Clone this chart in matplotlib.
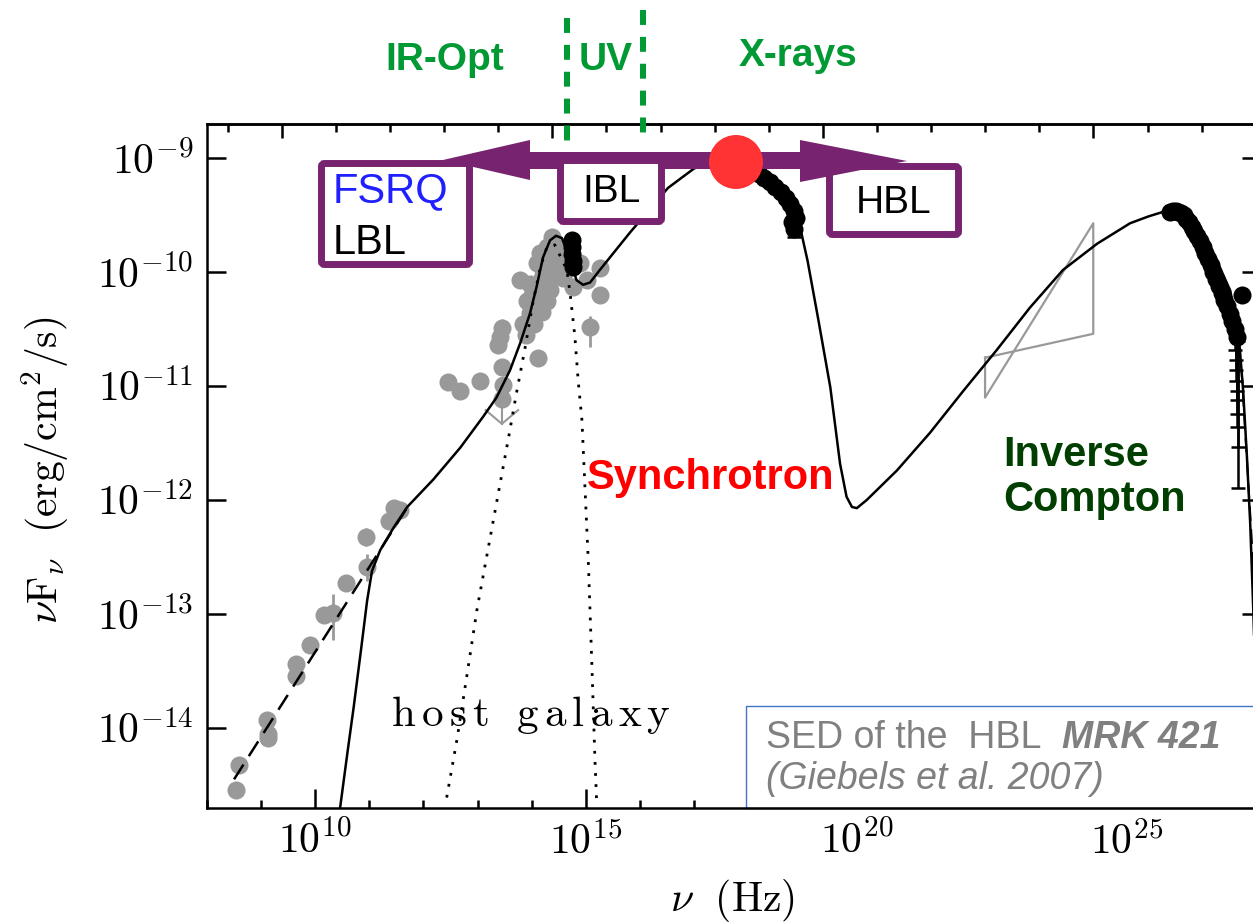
import numpy as np
import matplotlib
matplotlib.use('Agg')
import matplotlib.pyplot as plt
import matplotlib.transforms as mtransforms
from matplotlib.lines import Line2D
from matplotlib.patches import Rectangle, FancyBboxPatch, Polygon, Circle
from matplotlib.ticker import FixedLocator, NullLocator, NullFormatter, FuncFormatter

plt.rcParams['mathtext.fontset'] = 'cm'
plt.rcParams['font.family'] = ['Liberation Sans', 'DejaVu Sans']

# ---- data (log10 nu [Hz], log10 nuFnu [erg/cm2/s]) ----

# SSC model curve
model_lognu = [10.46, 10.60, 10.71, 10.85, 10.96, 11.05, 11.20, 11.45, 11.70, 12.18, 12.68,
               13.10, 13.35, 13.60, 13.79, 13.97, 14.09, 14.21, 14.34, 14.45, 14.56, 14.71,
               14.83, 14.95, 15.08, 15.26, 15.82, 16.52, 17.00, 17.50, 17.80, 18.10, 18.50,
               18.80, 18.95, 19.10, 19.30, 19.52, 19.70, 19.82, 19.92, 20.01, 20.19, 20.75,
               21.36, 21.98, 22.60, 23.21, 23.82, 24.45, 25.06, 25.40, 25.67, 25.86, 26.29, 26.60,
               26.91, 27.06, 27.10, 27.15, 27.22, 27.28, 27.34, 27.40]
model_logf = [-14.70, -14.20, -13.82, -13.30, -12.88, -12.62, -12.44, -12.24, -12.06, -11.82, -11.54,
              -11.27, -11.10, -10.86, -10.62, -10.36, -10.13, -9.87, -9.72, -9.68, -9.70, -9.89,
              -10.07, -10.11, -10.09, -9.98, -9.65, -9.26, -9.09, -9.00, -9.02, -9.10, -9.24,
              -9.42, -9.58, -9.90, -10.42, -11.01, -11.68, -11.97, -12.06, -12.07, -12.00, -11.74,
              -11.41, -11.04, -10.68, -10.31, -9.98, -9.75, -9.57, -9.51, -9.47, -9.46, -9.63, -9.83,
              -10.16, -10.51, -10.74, -11.04, -11.62, -12.20, -13.00, -14.00]

# radio power law (dashed)
radio_lognu = [8.50, 11.72]
radio_logf = [-14.45, -12.05]

# cutoff (dashed, right edge)
cut_lognu = [27.12, 27.34]
cut_logf = [-10.85, -12.60]

# host galaxy (dotted)
host_lognu = [12.43, 12.62, 12.80, 12.99, 13.14, 13.57, 13.72, 13.88, 14.03, 14.16, 14.28, 14.43,
              14.65, 14.71, 14.80, 14.86, 14.93, 15.05, 15.11, 15.17, 15.20]
host_logf = [-14.61, -14.10, -13.55, -12.96, -12.57, -11.46, -11.06, -10.66, -10.25, -9.96, -9.78, -9.76,
             -9.98, -10.18, -10.57, -10.95, -11.30, -12.57, -13.40, -14.28, -14.63]

# archival gray points
gray_lognu = [8.54, 8.59, 9.11, 9.12, 9.12, 9.65, 9.65, 9.91, 10.16, 11.36, 11.45,
              14.37, 14.28, 14.16, 14.09, 14.21, 13.79, 13.97, 14.16, 14.34, 14.40, 14.52,
              14.46, 14.65, 14.77, 14.89, 15.26, 15.26, 15.02, 13.91, 13.97, 13.84, 14.09,
              14.28, 13.42, 13.38, 13.45, 13.47, 13.45, 12.68, 14.12, 14.00, 14.20, 14.30,
              14.45, 14.58, 13.90, 14.05, 14.20]
gray_logf = [-14.54, -14.32, -13.93, -14.05, -14.09, -13.44, -13.54, -13.27, -13.01, -12.18, -12.07,
             -9.69, -9.78, -9.83, -9.92, -9.98, -10.07, -10.10, -10.13, -10.16, -10.04, -9.98,
             -9.89, -9.92, -10.13, -9.92, -9.96, -10.20, -10.07, -10.25, -10.36, -10.45, -10.31,
             -10.25, -10.57, -10.64, -10.83, -10.99, -11.11, -11.04, -10.75, -10.20, -10.05, -9.90,
             -9.78, -10.05, -10.55, -10.45, -10.35]

# gray points with error bars (lower / upper error in dex)
gerr_lognu = [10.33, 10.56, 10.94, 10.96, 11.57, 13.05, 12.45, 15.08, 13.45]
gerr_logf = [-12.99, -12.73, -12.32, -12.59, -12.09, -10.95, -10.96, -10.48, -10.49]
gerr_lo = [0.24, 0.05, 0.08, 0.12, 0.06, 0.06, 0.06, 0.18, 0.08]
gerr_hi = [0.17, 0.05, 0.08, 0.12, 0.06, 0.06, 0.06, 0.10, 0.08]

# gray upper limit
ul_lognu = [13.45, 13.45]
ul_logf = [-11.11, -11.33]
ulhead_lognu = [13.15, 13.45, 13.75]
ulhead_logf = [-11.21, -11.33, -11.21]

# Fermi bow-tie
bow_lognu = [22.38, 24.38, 24.38, 22.38, 22.38]
bow_logf = [-10.75, -10.54, -9.57, -11.10, -10.75]

# simultaneous black points (optical, X-ray, VHE)
black_lognu = [14.74, 14.75, 14.75, 14.76, 14.76,
               18.09, 18.20, 18.30, 18.40, 18.50, 18.60, 18.70, 18.78, 18.85, 18.88, 18.82, 18.84,
               25.80, 25.85, 25.90, 25.95, 26.00, 26.05, 26.10, 26.15, 26.20, 26.25, 26.30, 26.35,
               26.40, 26.45, 26.50, 26.55, 26.60, 26.65, 26.70, 26.75, 26.80, 26.85, 26.90, 26.95,
               27.00, 27.04, 27.13]
black_logf = [-9.72, -9.78, -9.84, -9.90, -9.95,
              -9.11, -9.14, -9.17, -9.21, -9.25, -9.30, -9.35, -9.40, -9.46, -9.52, -9.56, -9.62,
              -9.47, -9.46, -9.46, -9.47, -9.48, -9.50, -9.53, -9.56, -9.60, -9.64, -9.68, -9.73,
              -9.78, -9.83, -9.88, -9.94, -10.00, -10.06, -10.12, -10.18, -10.24, -10.30, -10.37, -10.43,
              -10.50, -10.57, -10.20]

# black error bars (VHE tail + X-ray)
berr_lognu = [18.84, 27.00, 27.01, 27.02, 27.02, 27.03, 27.03, 27.04, 27.04, 27.05, 27.05]
berr_logf = [-9.62, -10.50, -10.52, -10.54, -10.55, -10.56, -10.57, -10.58, -10.58, -10.59, -10.60]
berr_end = [-9.69, -10.68, -10.77, -10.86, -10.95, -11.04, -11.12, -11.24, -11.36, -11.53, -11.89]


def lin(a):
    return 10.0 ** np.asarray(a, dtype=float)


W, H = 1253, 923
fig = plt.figure(figsize=(W / 100, H / 100), dpi=100)
ax = fig.add_axes([207 / W, (H - 807.7) / H, (1261 - 207) / W, (807.7 - 124) / H])

# pixel transform (origin top-left) for the annotation layer
pix = mtransforms.Affine2D().scale(1.0 / W, -1.0 / H).translate(0, 1) + fig.transFigure

gray = '#999999'

# Model and data
ax.plot(lin(model_lognu), lin(model_logf), color='black', lw=1.8, zorder=2)
ax.plot(lin(radio_lognu), lin(radio_logf), color='black', lw=1.8, dashes=(7, 4), zorder=2)
ax.plot(lin(cut_lognu), lin(cut_logf), color='black', lw=1.5, dashes=(7, 4), zorder=2)
ax.plot(lin(host_lognu), lin(host_logf), color='black', lw=2.0, dashes=(1, 3), zorder=2)

ax.plot(lin(gray_lognu), lin(gray_logf), 'o', color=gray, ms=13, mew=0, zorder=1.5)
gy = lin(gerr_logf)
ax.errorbar(lin(gerr_lognu), gy,
            yerr=[gy - lin(np.array(gerr_logf) - np.array(gerr_lo)),
                  lin(np.array(gerr_logf) + np.array(gerr_hi)) - gy],
            fmt='o', color=gray, ms=13, mew=0, elinewidth=2, capsize=6, capthick=2, zorder=1.5)
ax.plot(lin(ul_lognu), lin(ul_logf), color=gray, lw=1.5, zorder=1.5)
ax.plot(lin(ulhead_lognu), lin(ulhead_logf), color=gray, lw=1.5, zorder=1.5)
ax.plot(lin(bow_lognu), lin(bow_logf), color=gray, lw=1.6, zorder=1.5)

ax.plot(lin(black_lognu), lin(black_logf), 'o', color='black', ms=13, mew=0, zorder=2.1)
by = lin(berr_logf)
ax.errorbar(lin(berr_lognu), by, yerr=[by - lin(berr_end), np.zeros(len(by))],
            fmt='none', ecolor='black', elinewidth=1.8, capsize=5, capthick=1.8, zorder=2.1)

# Axes
ax.set_xscale('log')
ax.set_yscale('log')
ax.set_xlim(1e8, 10 ** 27.48)
ax.set_ylim(2e-15, 2e-9)

ax.xaxis.set_major_locator(FixedLocator([1e10, 1e15, 1e20, 1e25]))
ax.xaxis.set_minor_locator(FixedLocator([10.0 ** k for k in range(8, 28)]))
ax.xaxis.set_minor_formatter(NullFormatter())
ax.yaxis.set_major_locator(FixedLocator([10.0 ** k for k in range(-14, -8)]))
ax.yaxis.set_minor_locator(NullLocator())
ax.xaxis.set_major_formatter(FuncFormatter(lambda v, p: r'$10^{%d}$' % round(np.log10(v))))
ax.yaxis.set_major_formatter(FuncFormatter(lambda v, p: r'$10^{%d}$' % round(np.log10(v))))

ax.tick_params(which='both', direction='in', top=False, right=True, width=1.8, labelsize=30)
ax.tick_params(which='major', length=14)
ax.tick_params(axis='x', which='minor', length=6)
ax.tick_params(axis='y', pad=10)
ax.tick_params(axis='x', pad=10)
for sp in ax.spines.values():
    sp.set_linewidth(1.8)

# top axis in eV
secax = ax.secondary_xaxis('top', functions=(lambda x: x / 2.418e14, lambda e: e * 2.418e14))
secax.xaxis.set_major_locator(FixedLocator([1e-5, 1.0, 1e5, 1e10]))
secax.xaxis.set_minor_locator(FixedLocator([10.0 ** k for k in range(-6, 14)]))
secax.xaxis.set_major_formatter(NullFormatter())
secax.xaxis.set_minor_formatter(NullFormatter())
secax.tick_params(which='both', direction='in', width=1.8)
secax.tick_params(which='major', length=10)
secax.tick_params(which='minor', length=6)
secax.spines['top'].set_linewidth(1.8)

fig.text(45, 470, r'$\nu\mathrm{F}_\nu\ \ \mathrm{(erg/cm^2/s)}$', transform=pix,
         rotation=90, ha='center', va='center', fontsize=30)
fig.text(733, 900, r'$\nu\ \ \mathrm{(Hz)}$', transform=pix,
         ha='center', va='center', fontsize=30)

# host galaxy label
ax.text(531, 715, r'$\mathrm{h\,o\,s\,t\;\;\,g\,a\,l\,a\,x\,y}$', transform=pix,
        ha='center', va='center', fontsize=31, clip_on=False, zorder=2.3)

# SED caption box (under ticks)
ax.add_patch(Rectangle((746, 706), 600, 102, transform=pix, facecolor='white',
                       edgecolor='#4472c4', lw=1.0, clip_on=False, zorder=2.2))
cap_gray = '#808080'
ax.text(766, 738, 'SED of the  HBL', transform=pix, color=cap_gray, fontsize=27,
        ha='left', va='center', clip_on=False, zorder=2.3)
ax.text(1062, 738, 'MRK 421', transform=pix, color=cap_gray, fontsize=27, fontweight='bold',
        style='italic', ha='left', va='center', clip_on=False, zorder=2.3)
ax.text(766, 779, '(Giebels et al. 2007)', transform=pix, color=cap_gray, fontsize=27,
        style='italic', ha='left', va='center', clip_on=False, zorder=2.3)

# Annotation layer
purple = '#77236f'
green = '#009933'

for xs, y0, y1 in [(567, 18, 150), (643, 10, 142)]:
    fig.add_artist(Line2D([xs, xs], [y0, y1], transform=pix, color=green, lw=4.3,
                          dashes=(2.5, 2), zorder=5))

fig.text(445, 60, 'IR-Opt', transform=pix, color=green, fontsize=28, fontweight='bold',
         ha='center', va='center')
fig.text(606, 60, 'UV', transform=pix, color=green, fontsize=28, fontweight='bold',
         ha='center', va='center')
fig.text(798, 56, 'X-rays', transform=pix, color=green, fontsize=28, fontweight='bold',
         ha='center', va='center')


def add_box(x0, y0, x1, y1, z):
    fig.add_artist(FancyBboxPatch((x0, y0), x1 - x0, y1 - y0, boxstyle='round,pad=0,rounding_size=3',
                                  transform=pix, facecolor='white', edgecolor=purple, lw=5, zorder=z))


add_box(321.5, 163.5, 469.5, 264.5, 3)
add_box(829.5, 166.5, 958.5, 234.5, 3)

arrow = Polygon([(443, 160), (530, 140), (530, 152), (800, 152), (800, 140), (907, 161),
                 (800, 182), (800, 169), (530, 169), (530, 180)],
                closed=True, transform=pix, facecolor=purple, edgecolor='none', zorder=4)
fig.add_artist(arrow)
add_box(560.5, 160.5, 661.5, 221.5, 5)
fig.add_artist(Circle((736, 162), 27, transform=pix, facecolor='#ff3333', edgecolor='none', zorder=6))

fig.text(333, 191, 'FSRQ', transform=pix, color='#1f1fff', fontsize=30, ha='left', va='center', zorder=7)
fig.text(333, 243, 'LBL', transform=pix, color='black', fontsize=30, ha='left', va='center', zorder=7)
fig.text(612, 192, 'IBL', transform=pix, color='black', fontsize=28, ha='center', va='center', zorder=7)
fig.text(894, 203, 'HBL', transform=pix, color='black', fontsize=28, ha='center', va='center', zorder=7)

fig.text(587, 478, 'Synchrotron', transform=pix, color='#ff0000', fontsize=30, fontweight='bold',
         ha='left', va='center', zorder=7)
fig.text(1003, 455, 'Inverse', transform=pix, color='#003f00', fontsize=30, fontweight='bold',
         ha='left', va='center', zorder=7)
fig.text(1003, 500, 'Compton', transform=pix, color='#003f00', fontsize=30, fontweight='bold',
         ha='left', va='center', zorder=7)

fig.savefig('out.png', dpi=100)
